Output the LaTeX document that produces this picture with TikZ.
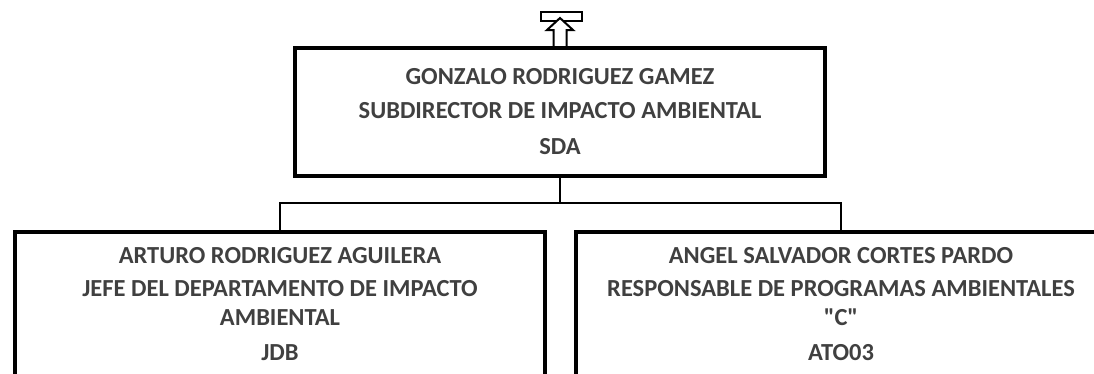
\documentclass[tikz,border=0pt]{standalone}
\usepackage{fontspec}
\setmainfont{Carlito}[Ligatures=TeXOff]
\usetikzlibrary{positioning}
\definecolor{txtg}{RGB}{64,64,64}

\begin{document}
\begin{tikzpicture}[x=1pt, y=-1pt,
        box/.style={draw, line width=4pt, inner sep=0pt, minimum width=530pt,
          align=center, text=txtg, font=\fontsize{24.5}{29}\selectfont\bfseries},
        conn/.style={line width=1.5pt},
        mark2/.style={draw, line width=2pt, fill=white}]
      \useasboundingbox (0,0) rectangle (1094,373);
      \clip (0,0) rectangle (1094,373);
      % top marker
      \node[mark2, minimum width=41pt, minimum height=9pt] (tab) at (561,16) {};
      \draw[mark2] (553.5,47) -- (553.5,30) -- (547,30) -- (560,18)
        -- (573,30) -- (566.5,30) -- (566.5,47) -- cycle;
      % boxes
      \node[box, minimum height=127.5pt] (sub) at (560,111.75)
        {GONZALO RODRIGUEZ GAMEZ\\[5pt] SUBDIRECTOR DE IMPACTO AMBIENTAL\\[7pt] SDA};
      \node[box, minimum height=145pt, anchor=north] (jefe) at (280,230)
        {ARTURO RODRIGUEZ AGUILERA\\[4pt] JEFE DEL DEPARTAMENTO DE IMPACTO\\ AMBIENTAL\\[6pt] JDB};
      \node[box, minimum height=145pt, anchor=north] (resp) at (841,230)
        {ANGEL SALVADOR CORTES PARDO\\[4pt] RESPONSABLE DE PROGRAMAS AMBIENTALES\\
         "C"\\[6pt] ATO03};
      % lines
      \coordinate (split) at (560,203);
      \draw[conn] (sub.south) -- (split);
      \draw[conn] (split) -| (jefe.north);
      \draw[conn] (split) -| (resp.north);
    \end{tikzpicture}
\end{document}
